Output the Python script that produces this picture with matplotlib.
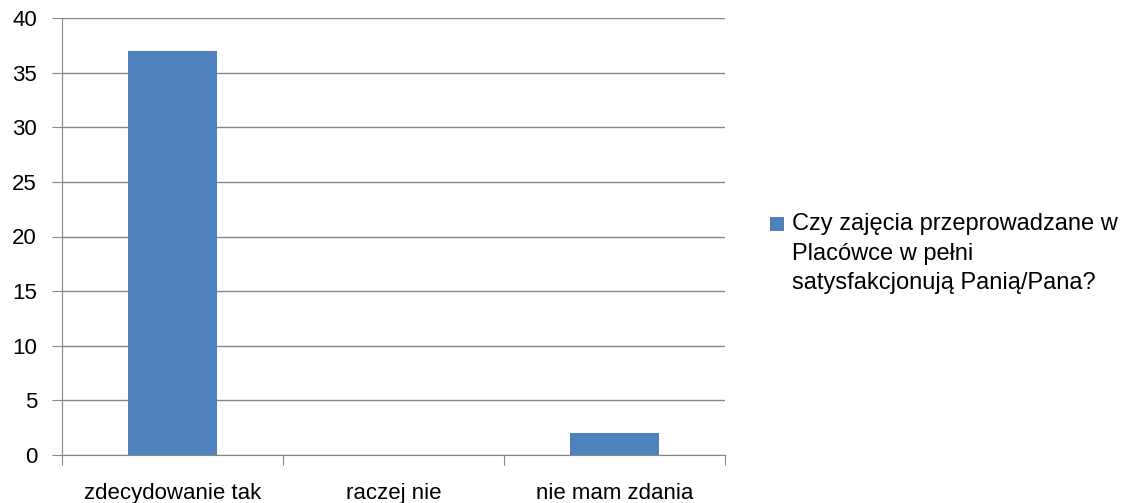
import matplotlib.pyplot as plt
from matplotlib.patches import Rectangle

categories = ["zdecydowanie tak", "raczej nie", "nie mam zdania"]
values = [37, 0, 2]
series_name = "Czy zajęcia przeprowadzane w\nPlacówce w pełni\nsatysfakcjonują Panią/Pana?"
yticks = [0, 5, 10, 15, 20, 25, 30, 35, 40]

plt.rcParams['font.family'] = ['Liberation Sans', 'DejaVu Sans']
bar_color = '#4F81BD'
grid_color = '#878787'

W, H = 1124, 503
fig = plt.figure(figsize=(W / 100, H / 100), dpi=100)
ax = fig.add_axes([62/W, 48/H, 663/W, 437/H])

x = list(range(len(categories)))
ax.bar(x, values, width=0.4, color=bar_color, zorder=3)

ax.set_xlim(-0.5, len(categories) - 0.5)
ax.set_ylim(0, 40)
ax.set_yticks(yticks)
ax.tick_params(axis='y', length=7, color=grid_color, labelsize=16, pad=11, labelcolor='#000000')
ax.yaxis.grid(True, color=grid_color, linewidth=1, zorder=0)

ax.set_xticks([i - 0.5 for i in range(len(categories) + 1)])
ax.set_xticklabels([])
ax.tick_params(axis='x', which='major', length=7, color=grid_color)
ax.set_xticks(x, minor=True)
ax.set_xticklabels(categories, minor=True)
ax.tick_params(axis='x', which='minor', length=0, labelsize=16, pad=20)

for side in ['top', 'right']:
    ax.spines[side].set_visible(False)
for side in ['left', 'bottom']:
    ax.spines[side].set_color(grid_color)

# legend drawn by hand so the key sits on the first line
fig.patches.append(Rectangle((770/W, 1 - 231/H), 14/W, 14/H, transform=fig.transFigure,
                             facecolor=bar_color, edgecolor='none'))
fig.text(792/W, 1 - 213/H, series_name, ha='left', va='top', fontsize=17, linespacing=1.45)

fig.savefig('out.png', dpi=100)
